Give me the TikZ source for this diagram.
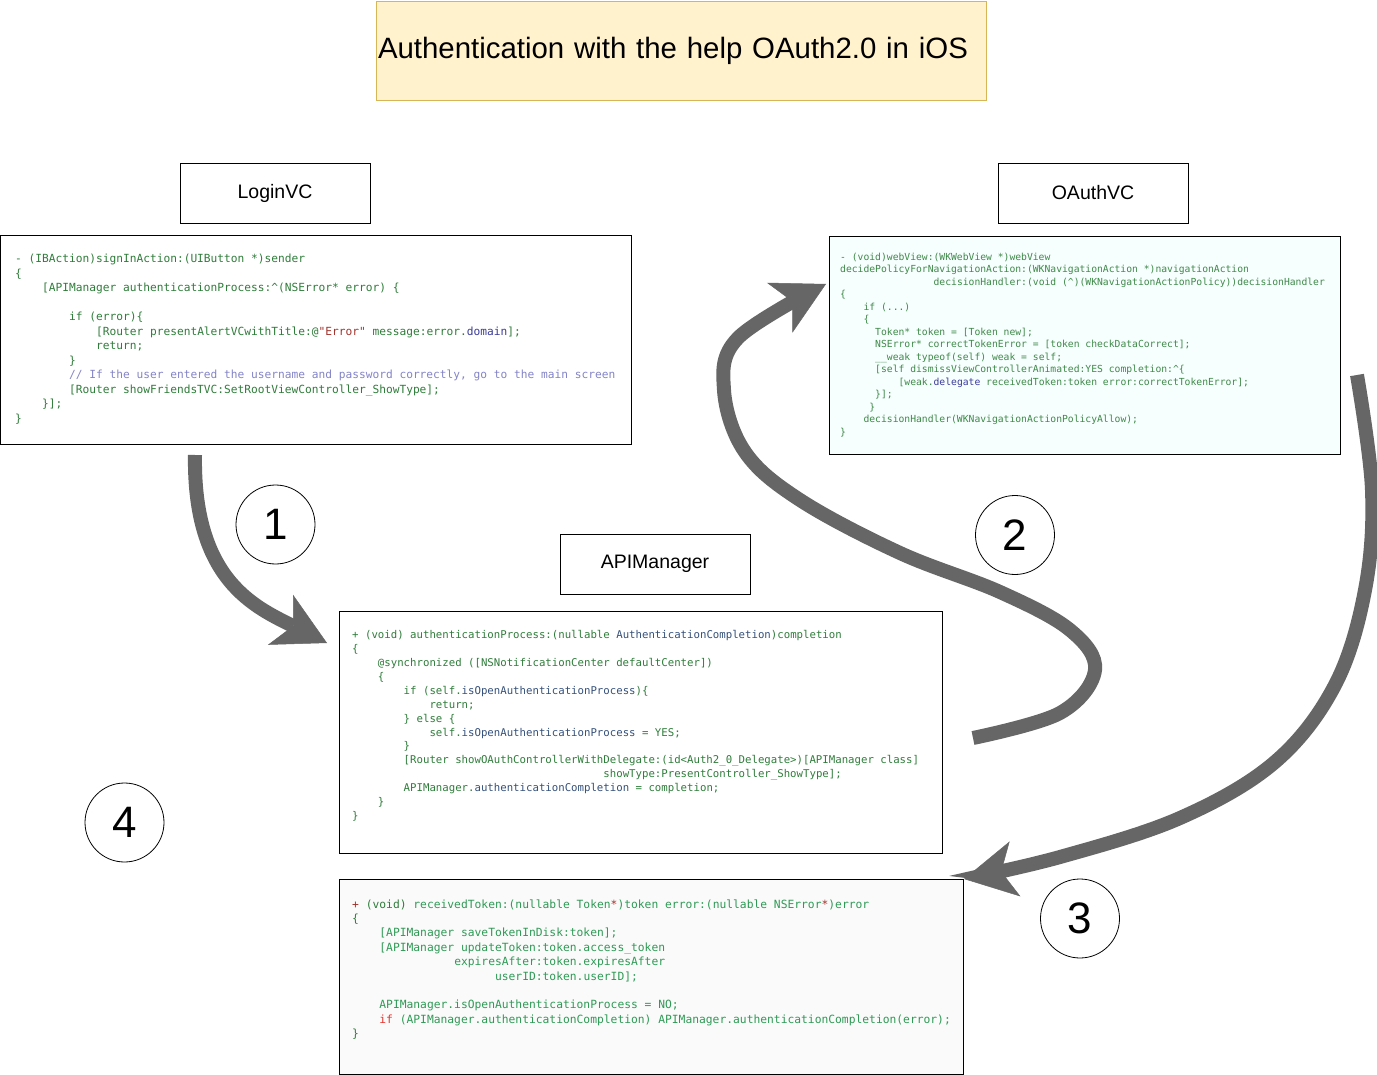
\documentclass[tikz,border=0pt]{standalone}
\usepackage{fontspec}
\setmonofont{DejaVu Sans Mono}
\newfontfamily\arialfont{Liberation Sans}
\usetikzlibrary{arrows.meta}
\newcommand\ind[1]{\hspace*{#1\fontcharwd\font`0}}
\definecolor{cg}{HTML}{2F7D3A}
\definecolor{cg2}{HTML}{3E8A48}
\definecolor{cg4}{HTML}{2E9A55}
\definecolor{cb}{HTML}{3B3B9B}
\definecolor{cb3}{HTML}{34507A}
\definecolor{cc}{HTML}{8484C8}
\definecolor{cr}{HTML}{A3322B}
\definecolor{cif}{HTML}{E5322D}
\definecolor{agrey}{HTML}{666666}
\definecolor{titlefill}{HTML}{FFF2CC}
\definecolor{titledraw}{HTML}{D6B656}
\definecolor{cyanbg}{HTML}{F6FEFE}
\definecolor{greybg}{HTML}{FAFAFA}
\begin{document}
\begin{tikzpicture}[x=1pt,y=-1pt,
 codebox/.style={draw=black, line width=1pt, anchor=north west, inner sep=0pt, fill=white},
 codetext/.style={anchor=base west, inner sep=0pt, text=cg},
 lbl/.style={draw=black, line width=0.8pt, minimum width=190pt, minimum height=60pt, inner sep=0pt, font=\arialfont\fontsize{19.5pt}{22pt}\selectfont},
 num/.style={circle, draw=black, line width=0.8pt, minimum size=79pt, inner sep=0pt, font=\arialfont\fontsize{44pt}{50pt}\selectfont},
 bigarrow/.style={draw=agrey, line width=14pt, -{Stealth[length=52pt,width=56pt,inset=14pt,line width=0.5pt]}}
]
\useasboundingbox (0,0) rectangle (1377,1075);
\fill[white] (0,0) rectangle (1377,1075);

% title
\node[draw=titledraw, fill=titlefill, line width=0.8pt, minimum width=610pt, minimum height=99pt, inner xsep=2pt, inner ysep=0pt,
      text width=606pt, align=left,
      font=\arialfont\fontsize{29.4pt}{34pt}\selectfont] (title) at (681,50.5) {Authentication with the help OAuth2.0 in iOS};

% labels
\node[lbl] (loginvc) at (275,193) {LoginVC};
\node[lbl] (oauthvc) at (1093,193) {OAuthVC};
\node[lbl] (apimgr) at (655,564) {APIManager};

% code boxes
\node[codebox, minimum width=631pt, minimum height=209pt] (lbox) at (0,235) {};
\node[codebox, fill=cyanbg, minimum width=511pt, minimum height=218pt] (obox) at (829,236) {};
\node[codebox, minimum width=603pt, minimum height=242pt] (abox) at (339,611) {};
\node[codebox, fill=greybg, minimum width=624pt, minimum height=195pt] (rbox) at (339,879) {};

\node[codetext, font=\ttfamily\fontsize{11.2pt}{14.5pt}\selectfont] (lcode) at (15,263) {\frenchspacing\begin{tabular}[t]{@{}l@{}}
- (IBAction)signInAction:(UIButton *)sender\\
\{\\
\ind4[APIManager authenticationProcess:\textasciicircum(NSError* error) \{\\
\\
\ind8if (error)\{\\
\ind{12}[Router presentAlertVCwithTitle:@\textcolor{cr}{"Error"} message:error.\textcolor{cb}{domain}];\\
\ind{12}return;\\
\ind8\}\\
\ind8\textcolor{cc}{// If the user entered the username and password correctly, go to the main screen}\\
\ind8[Router showFriendsTVC:SetRootViewController\_ShowType];\\
\ind4\}];\\
\}
\end{tabular}};

\node[codetext, text=cg2, font=\ttfamily\fontsize{9.7pt}{12.5pt}\selectfont] (ocode) at (840,260.5) {\frenchspacing\begin{tabular}[t]{@{}l@{}}
- (void)webView:(WKWebView *)webView\\
decidePolicyForNavigationAction:(WKNavigationAction *)navigationAction\\
\ind{16}decisionHandler:(void (\textasciicircum)(WKNavigationActionPolicy))decisionHandler\\
\{\\
\ind4if (...)\\
\ind4\{\\
\ind6Token* token = [Token new];\\
\ind6NSError* correctTokenError = [token checkDataCorrect];\\
\ind6\_\_weak typeof(self) weak = self;\\
\ind6[self dismissViewControllerAnimated:YES completion:\textasciicircum\{\\
\ind{10}[weak.\textcolor{cb}{delegate} receivedToken:token error:correctTokenError];\\
\ind6\}];\\
\ind5\}\\
\ind4decisionHandler(WKNavigationActionPolicyAllow);\\
\}
\end{tabular}};

\node[codetext, font=\ttfamily\fontsize{10.7pt}{13.9pt}\selectfont] (acode) at (352,638.7) {\frenchspacing\begin{tabular}[t]{@{}l@{}}
+ (void) authenticationProcess:(nullable \textcolor{cb3}{AuthenticationCompletion})completion\\
\{\\
\ind4@synchronized ([NSNotificationCenter defaultCenter])\\
\ind4\{\\
\ind8if (self.\textcolor{cb3}{isOpenAuthenticationProcess})\{\\
\ind{12}return;\\
\ind8\} else \{\\
\ind{12}self.\textcolor{cb3}{isOpenAuthenticationProcess} = YES;\\
\ind8\}\\
\ind8[Router showOAuthControllerWithDelegate:(id<Auth2\_0\_Delegate>)[APIManager class]\\
\ind{39}showType:PresentController\_ShowType];\\
\ind8APIManager.\textcolor{cb3}{authenticationCompletion} = completion;\\
\ind4\}\\
\}
\end{tabular}};

\node[codetext, text=cg4, font=\ttfamily\fontsize{11.3pt}{14.4pt}\selectfont] (rcode) at (352,908) {\frenchspacing\begin{tabular}[t]{@{}l@{}}
\textcolor{cr}{+} \textcolor{cg}{(void)} receivedToken:(nullable Token\textcolor{cr}{*})token error:(nullable NSError\textcolor{cr}{*})error\\
\textcolor{cg}{\{}\\
\ind4[APIManager saveTokenInDisk:token];\\
\ind4[APIManager updateToken:token.access\_token\\
\ind{15}expiresAfter:token.expiresAfter\\
\ind{21}userID:token.userID];\\
\\
\ind4APIManager.isOpenAuthenticationProcess = NO;\\
\ind4\textcolor{cif}{if} (APIManager.authenticationCompletion) APIManager.authenticationCompletion(error);\\
\textcolor{cg}{\}}
\end{tabular}};

% numbers
\node[num] (n1) at (275.5,524.5) {1};
\node[num] (n2) at (1015,535) {2};
\node[num] (n3) at (1080,918.5) {3};
\node[num] (n4) at (124.5,822.5) {4};

% arrows
\coordinate (a1s) at (195,455);
\coordinate (a1e) at (327,643);
\coordinate (a2s) at (973,738);
\coordinate (a2e) at (826,284);
\coordinate (a3s) at (1357,375);
\coordinate (a3e) at (964,879);
\draw[bigarrow] (a1s) .. controls (193,580) and (255,607) .. (a1e);
\draw[bigarrow] plot[smooth, tension=0.6] coordinates {(a2s) (1060,713) (1095,670) (1070,630) (1000,592) (900,553) (800,500) (745,452) (724,390) (738,338) (a2e)};
\draw[bigarrow] plot[smooth, tension=0.6] coordinates {(a3s) (1372,490) (1365,590) (1335,685) (1275,762) (1180,818) (1060,857) (a3e)};
\end{tikzpicture}
\end{document}
